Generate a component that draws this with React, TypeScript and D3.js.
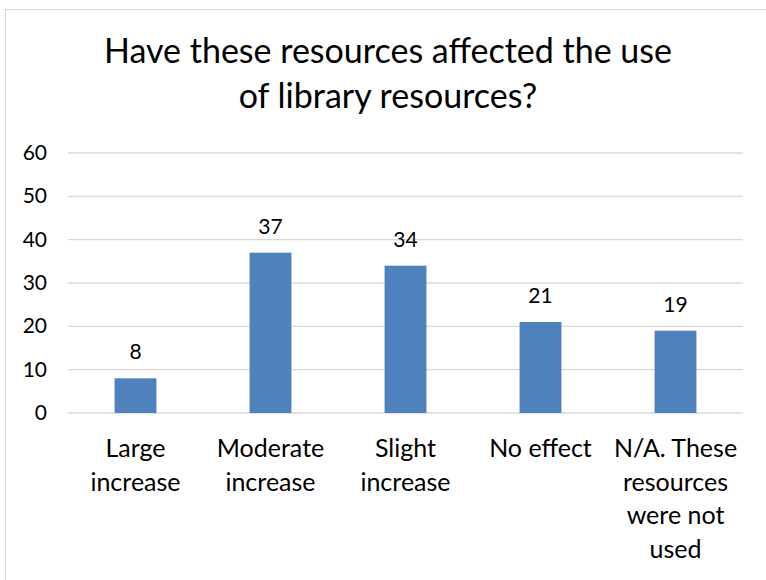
import React from "react";
import * as d3 from "d3";

// values
const categories = [
  "Large increase",
  "Moderate increase",
  "Slight increase",
  "No effect",
  "N/A. These resources were not used",
];
const categoryLines = [
  ["Large", "increase"],
  ["Moderate", "increase"],
  ["Slight", "increase"],
  ["No effect"],
  ["N/A. These", "resources", "were not", "used"],
];
const counts = [8, 37, 34, 21, 19];
const yTicks = [0, 10, 20, 30, 40, 50, 60];
const titleLines = ["Have these resources affected the use", "of library resources?"];

const W = 766;
const H = 580;
const FONT = "Lato, 'Open Sans', sans-serif";

const App = () => {
  const x = d3.scaleBand().domain(categories).range([68, 743]).paddingInner(0.69).paddingOuter(0.345);
  const y = d3.scaleLinear().domain([0, 60]).range([413, 153]);

  return (
    <svg width={W} height={H} style={{ position: "absolute", left: 0, top: 0, background: "#fff" }}>
      <rect x={5.5} y={9.5} width={900} height={700} fill="#fff" stroke="#D9D9D9" />

      {titleLines.map((t, i) => (
        <text key={t} x={388} y={63 + i * 45} textAnchor="middle" fontFamily={FONT} fontSize={34} fill="#000">
          {t}
        </text>
      ))}

      {/* grid + y ticks */}
      {yTicks.map((t) => (
        <g key={t}>
          <line x1={68} x2={743} y1={y(t)} y2={y(t)} stroke="#D9D9D9" strokeWidth={1.3} />
          <text x={47} y={y(t) + 7} textAnchor="end" fontFamily={FONT} fontSize={21} fill="#000">
            {t}
          </text>
        </g>
      ))}

      {/* bars */}
      {categories.map((c, i) => (
        <g key={c}>
          <rect x={x(c)} y={y(counts[i])} width={x.bandwidth()} height={y(0) - y(counts[i])} fill="#4F81BD" />
          <text
            x={(x(c) as number) + x.bandwidth() / 2}
            y={y(counts[i]) - 19}
            textAnchor="middle"
            fontFamily={FONT}
            fontSize={21}
            fill="#000"
          >
            {counts[i]}
          </text>
        </g>
      ))}

      {/* category labels */}
      {categories.map((c, i) => (
        <text
          key={c}
          x={(x(c) as number) + x.bandwidth() / 2}
          textAnchor="middle"
          fontFamily={FONT}
          fontSize={25}
          fill="#000"
        >
          {categoryLines[i].map((l, j) => (
            <tspan key={j} x={(x(c) as number) + x.bandwidth() / 2} y={457 + j * 33.7}>
              {l}
            </tspan>
          ))}
        </text>
      ))}
    </svg>
  );
};

export default App;
